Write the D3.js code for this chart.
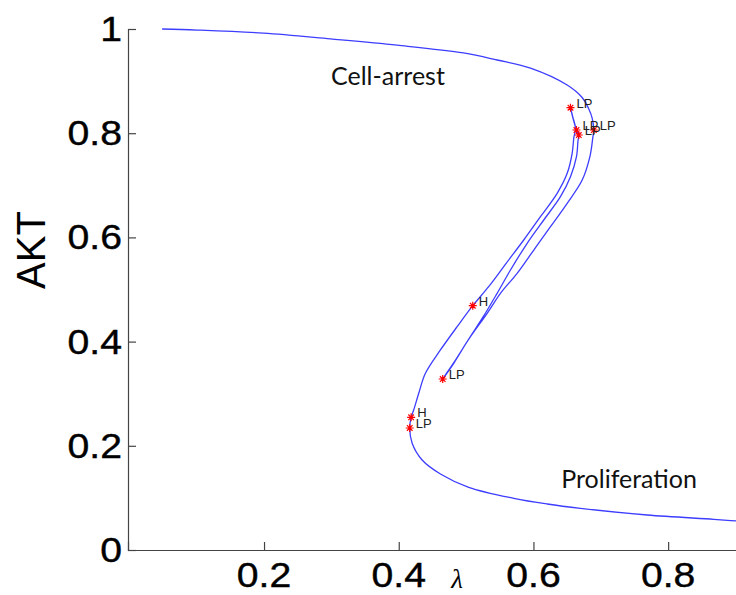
<!DOCTYPE html>
<html>
<head>
<meta charset="utf-8">
<script src="https://cdn.jsdelivr.net/npm/d3@7"></script>
<style>
	body { margin: 0; background: #fff; }
	svg { display: block; }
	.tick-label { font-family: "Liberation Sans", Arial, sans-serif; font-size: 35px; fill: #000; stroke: #000; stroke-width: 0.4px; }
	.region-label { font-family: Lato, "Open Sans", sans-serif; font-size: 25px; fill: #111; }
	.point-label { font-family: "Liberation Sans", Arial, sans-serif; font-size: 13px; fill: #222; }
</style>
</head>
<body>
<svg id="chart" width="736" height="595"></svg>
<script>
'use strict';

// continuation branch, lambda vs AKT (in order along the curve)
var lambdaValues = [0.0486, 0.1005, 0.199, 0.2985, 0.3976, 0.4961, 0.5461, 0.5956, 0.6501, 0.672,
	0.6817, 0.6872, 0.6896, 0.6881, 0.684, 0.6724, 0.6501, 0.6253, 0.6005, 0.5758,
	0.551, 0.5313, 0.5065, 0.4842, 0.4653, 0.4817, 0.5030, 0.5255, 0.5461, 0.5659,
	0.5907, 0.6153, 0.6401, 0.655, 0.6639, 0.6661, 0.6673, 0.6639, 0.6575, 0.655,
	0.6585, 0.6624, 0.6599, 0.6575, 0.6501, 0.6352, 0.6104, 0.5856, 0.5595, 0.5335,
	0.5099, 0.4867, 0.4619, 0.4396, 0.4297, 0.4222, 0.4184, 0.4163, 0.4199, 0.4347,
	0.4619, 0.5039, 0.5708, 0.6204, 0.6698, 0.7689, 0.8678, 0.9015, 0.93];
var aktValues = [1.0, 0.998, 0.992, 0.981, 0.969, 0.954, 0.9405, 0.925, 0.8925, 0.869,
	0.848, 0.829, 0.806, 0.791, 0.756, 0.710, 0.6655, 0.6205, 0.5758, 0.5311,
	0.4927, 0.4543, 0.4094, 0.3647, 0.3282, 0.3583, 0.4031, 0.4478, 0.4927, 0.5374,
	0.5887, 0.6334, 0.6781, 0.7165, 0.7549, 0.785, 0.7965, 0.8061, 0.8349, 0.849,
	0.831, 0.810, 0.7908, 0.7614, 0.723, 0.6846, 0.6397, 0.595, 0.5503, 0.5054,
	0.4689, 0.4286, 0.3839, 0.3392, 0.3008, 0.2687, 0.2547, 0.2342, 0.2048, 0.1727,
	0.1459, 0.1203, 0.0992, 0.0883, 0.080, 0.0672, 0.0589, 0.0557, 0.053];

// special points (limit points and Hopf points)
var pointLambda = [0.6896, 0.6673, 0.6639, 0.655, 0.4653, 0.5099, 0.4184, 0.4163];
var pointAkt = [0.8061, 0.7965, 0.8061, 0.849, 0.3282, 0.4689, 0.2547, 0.2342];
var pointLabels = ['LP', 'LP', 'LP', 'LP', 'LP', 'H', 'H', 'LP'];

var xTicks = [0.2, 0.4, 0.6, 0.8];
var yTicks = [0, 0.2, 0.4, 0.6, 0.8, 1];

var regionNames = ['Cell-arrest', 'Proliferation'];
var regionLambda = [0.384, 0.742];
var regionAkt = [0.8925, 0.119];

var svg = d3.select('#chart');

var x = d3.scaleLinear().domain([-0.002, 0.975]).range([128, 786]);
var y = d3.scaleLinear().domain([0, 1]).range([550, 29]);

var plot = svg.append('g');

// axes, ticks drawn inward like the original
var xAxis = d3.axisTop(x)
	.tickValues(xTicks)
	.tickSize(8)
	.tickFormat('');
var yAxis = d3.axisRight(y)
	.tickValues(yTicks)
	.tickSize(8)
	.tickFormat('');

var gx = plot.append('g')
	.attr('transform', 'translate(0,' + y(0) + ')')
	.call(xAxis);
var gy = plot.append('g')
	.attr('transform', 'translate(' + x.range()[0] + ',0)')
	.call(yAxis);
[gx, gy].forEach(function(g){
	g.select('.domain').attr('stroke', '#444').attr('stroke-width', 1.2);
	g.selectAll('.tick line').attr('stroke', '#444').attr('stroke-width', 1.2);
});

// tick labels (the original glyphs are a bit wider than tall)
plot.selectAll('text.x-tick')
	.data(xTicks)
	.enter()
	.append('text')
		.attr('class', 'tick-label x-tick')
		.attr('transform', function(d){ return 'translate(' + x(d) + ',' + (y(0) + 37) + ') scale(1.12,1)'; })
		.attr('text-anchor', 'middle')
		.text(function(d){ return d; });

plot.selectAll('text.y-tick')
	.data(yTicks)
	.enter()
	.append('text')
		.attr('class', 'tick-label y-tick')
		.attr('transform', function(d){ return 'translate(' + (x.range()[0] - 6) + ',' + (y(d) + 12) + ') scale(1.12,1)'; })
		.attr('text-anchor', 'end')
		.text(function(d){ return d; });

// axis titles
plot.append('text')
	.attr('transform', 'translate(45,250) rotate(-90)')
	.attr('text-anchor', 'middle')
	.style('font-family', '"Liberation Sans", Arial, sans-serif')
	.style('font-size', '40px')
	.text('AKT');

plot.append('text')
	.attr('x', (x.range()[0] + x.range()[1]) / 2)
	.attr('y', 588)
	.attr('text-anchor', 'middle')
	.style('font-family', '"Liberation Serif", "DejaVu Serif", serif')
	.style('font-style', 'italic')
	.style('font-size', '27px')
	.text('\u03BB');

// the branch
var curveData = lambdaValues.map(function(l, i){
	return { lambda: l, akt: aktValues[i] };
});
var line = d3.line()
	.x(function(d){ return x(d.lambda); })
	.y(function(d){ return y(d.akt); })
	.curve(d3.curveCatmullRom.alpha(0.5));

plot.append('path')
	.datum(curveData)
	.attr('d', line)
	.attr('fill', 'none')
	.attr('stroke', '#3d3dff')
	.attr('stroke-width', 1.3);

// special point markers (asterisks) and their labels
var points = pointLambda.map(function(l, i){
	return { lambda: l, akt: pointAkt[i], label: pointLabels[i] };
});
var r = 4;
var marks = plot.append('g')
	.selectAll('g')
	.data(points)
	.enter()
	.append('g')
		.attr('transform', function(d){ return 'translate(' + x(d.lambda) + ',' + y(d.akt) + ')'; });

marks.append('path')
	.attr('d', 'M' + (-r) + ',0H' + r + 'M0,' + (-r) + 'V' + r +
		'M' + (-r * 0.7) + ',' + (-r * 0.7) + 'L' + (r * 0.7) + ',' + (r * 0.7) +
		'M' + (-r * 0.7) + ',' + (r * 0.7) + 'L' + (r * 0.7) + ',' + (-r * 0.7))
	.attr('stroke', '#ff0000')
	.attr('stroke-width', 1.2)
	.attr('fill', 'none');

marks.append('text')
	.attr('class', 'point-label')
	.attr('x', 6)
	.attr('y', 0)
	.text(function(d){ return d.label; });

// region names
plot.selectAll('text.region-label')
	.data(regionNames)
	.enter()
	.append('text')
		.attr('class', 'region-label')
		.attr('x', function(d, i){ return x(regionLambda[i]); })
		.attr('y', function(d, i){ return y(regionAkt[i]); })
		.attr('text-anchor', 'middle')
		.text(function(d){ return d; });
</script>
</body>
</html>
